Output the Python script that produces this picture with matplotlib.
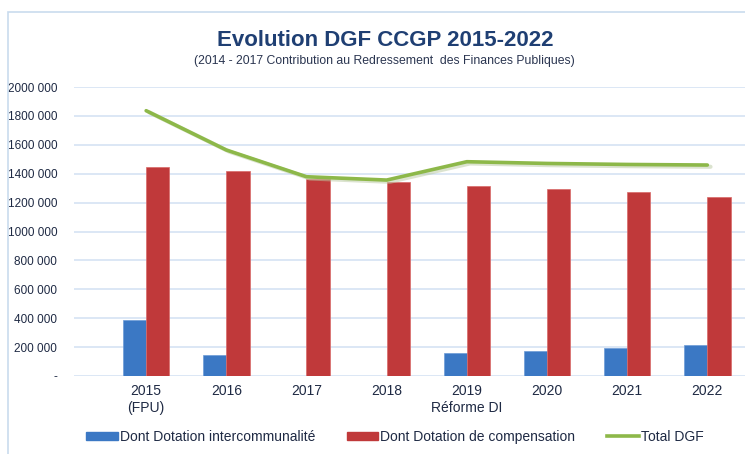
import numpy as np
import matplotlib.pyplot as plt
from matplotlib.patches import Rectangle
from matplotlib.lines import Line2D

years = ["2015\n(FPU)", "2016", "2017", "2018", "2019\nRéforme DI", "2020", "2021", "2022"]
interco = [388000, 143000, 0, 0, 161000, 175000, 196000, 217000]
compensation = [1448000, 1417000, 1361000, 1345000, 1317000, 1296000, 1271000, 1241000]
total_dgf = [1836000, 1564000, 1379000, 1356000, 1483000, 1471000, 1464000, 1460000]
yticks = [0, 200000, 400000, 600000, 800000, 1000000, 1200000, 1400000, 1600000, 1800000, 2000000]
ytick_labels = ["-", "200 000", "400 000", "600 000", "800 000", "1000 000", "1200 000",
                "1400 000", "1600 000", "1800 000", "2000 000"]

plt.rcParams['font.family'] = ['Liberation Sans', 'DejaVu Sans']

W, H = 745, 454
fig = plt.figure(figsize=(W / 100, H / 100), dpi=100)
fig.patch.set_facecolor('white')

# outer frame
fig.patches.append(Rectangle((8 / W, -0.1), 1.2, (H - 12) / H + 0.1, transform=fig.transFigure,
                             fill=False, edgecolor='#C9DBEE', linewidth=1.2))

ax = fig.add_axes([74 / W, 1 - 376 / H, (745 - 74) / W, (376 - 87) / H])
x = np.arange(len(years))
bw = 0.29
ax.bar(x - bw / 2, interco, bw, color='#3B78C4', edgecolor='#6C9AD6', linewidth=0.5, zorder=2)
ax.bar(x + bw / 2, compensation, bw, color='#C0393A', edgecolor='#D96A68', linewidth=0.5, zorder=2)
ax.plot(x + 0.04, np.array(total_dgf) - 12000, color='#B9C9A0', linewidth=3, alpha=0.5, zorder=3,
        solid_capstyle='round')
ax.plot(x, total_dgf, color='#8DB849', linewidth=2.6, zorder=4, solid_capstyle='round')

ax.set_xlim(-0.9, 7.47)
ax.set_ylim(0, 2000000)
ax.set_yticks(yticks)
ax.set_yticklabels(ytick_labels, fontsize=8.5, color='#1F2A44')
ax.set_xticks(x)
ax.set_xticklabels(years, fontsize=10, color='#1F2A44')
ax.tick_params(length=0, axis='y', pad=12)
ax.tick_params(length=0, axis='x', pad=6)
ax.grid(axis='y', color='#D5E3F3', linewidth=1.2, zorder=0)
for s in ax.spines.values():
    s.set_visible(False)

fig.text(385 / W, 1 - 41 / H, "Evolution DGF CCGP 2015-2022", ha='center', va='center',
         fontsize=16, fontweight='bold', color='#1F3F73')
fig.text(384 / W, 1 - 61 / H, "(2014 - 2017 Contribution au Redressement  des Finances Publiques)",
         ha='center', va='center', fontsize=8.8, color='#2A3550')

handles = [Rectangle((0, 0), 1, 1, color='#3B78C4'), Rectangle((0, 0), 1, 1, color='#C0393A'),
           Line2D([0], [0], color='#8DB849', linewidth=2.6)]
labels = ["Dont Dotation intercommunalité", "Dont Dotation de compensation", "Total DGF"]
fig.legend(handles, labels, loc='center', bbox_to_anchor=(395 / W, 1 - 437 / H), ncol=3, frameon=False,
           fontsize=10, handlelength=2.25, handleheight=0.55, handletextpad=0.15, columnspacing=2.3,
           labelcolor='#1F2A44')

fig.savefig("out.png", dpi=100, facecolor='white')
